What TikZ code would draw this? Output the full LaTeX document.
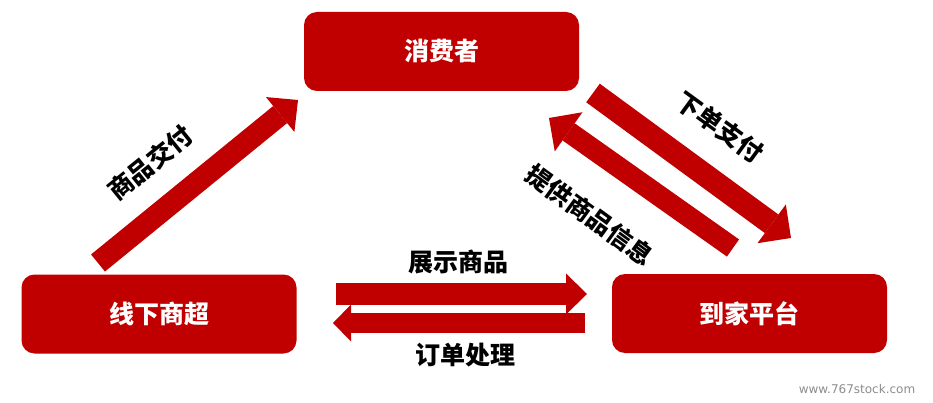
\documentclass[tikz,border=0pt]{standalone}
\usepackage{fontspec}
\setmainfont{Noto Sans CJK SC}
\newfontfamily\wmfont{DejaVu Sans}
\usetikzlibrary{arrows.meta}
\definecolor{brandred}{RGB}{192,0,0}
\begin{document}
\begin{tikzpicture}[x=1pt,y=-1pt,
  box/.style={fill=brandred, rounded corners=13pt, text=white,
    font=\bfseries\fontsize{25}{27}\selectfont, minimum width=275pt,
    minimum height=79pt, inner sep=0pt},
  lbl/.style={font=\bfseries\fontsize{25}{27}\selectfont, text=black, inner sep=0pt},
  blockarrow/.style n args={3}{draw=brandred, line width=#1,
    -{Triangle[width=#2, length=#3, line width=0pt, fill=brandred]}}]
\useasboundingbox (0,0) rectangle (933,403);
% boxes
\node[box] (consumer) at (441.5,51.5) {消费者};
\node[box] (offline) at (159,314) {线下商超};
\node[box] (platform) at (749.5,313.5) {到家平台};
% arrow end points
\coordinate (a1s) at (98,263);  \coordinate (a1e) at (298,100);
\coordinate (a2s) at (593,93);  \coordinate (a2e) at (791,238);
\coordinate (a3s) at (733,248); \coordinate (a3e) at (549,118);
\coordinate (a4s) at (336,294); \coordinate (a4e) at (587,294);
\coordinate (a5s) at (585,323); \coordinate (a5e) at (333,323);
% arrows
\draw[blockarrow={22pt}{45pt}{23pt}] (a1s) -- (a1e);
\draw[blockarrow={23pt}{48pt}{24pt}] (a2s) -- (a2e);
\draw[blockarrow={21pt}{48pt}{24pt}] (a3s) -- (a3e);
\draw[blockarrow={22pt}{41pt}{21pt}] (a4s) -- (a4e);
\draw[blockarrow={20pt}{37pt}{18pt}] (a5s) -- (a5e);
% labels
\node[lbl, rotate=39] (l1) at (150,163) {商品交付};
\node[lbl, rotate=-36] (l2) at (720,127) {下单支付};
\node[lbl, rotate=-36] (l3) at (590,215) {提供商品信息};
\node[lbl] (l4) at (458,262) {展示商品};
\node[lbl] (l5) at (465,355) {订单处理};
% watermark
\node[font=\wmfont\fontsize{12}{13}\selectfont, text=black!45, inner sep=0pt] (wm) at (857,389) {www.767stock.com};
\end{tikzpicture}
\end{document}
